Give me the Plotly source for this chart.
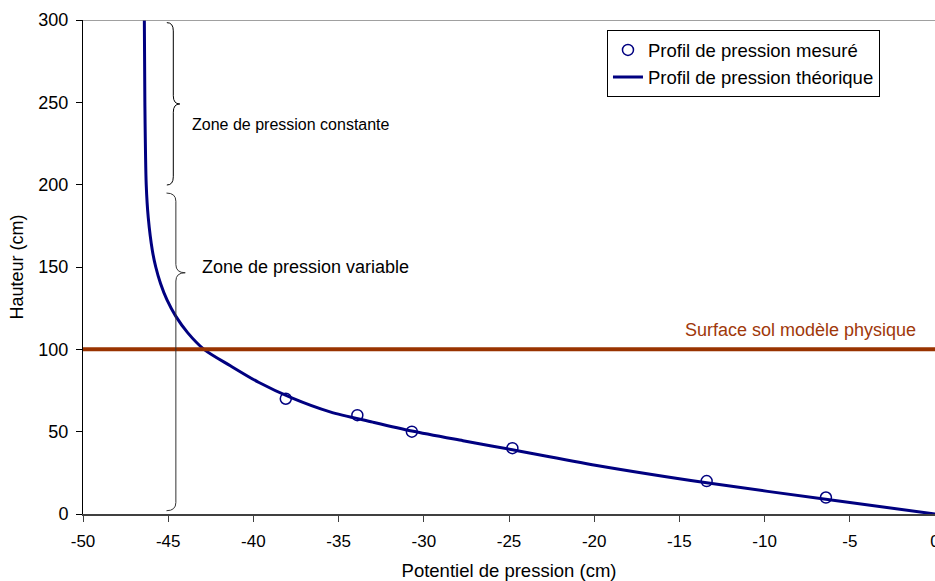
import plotly.graph_objects as go

# ---- data ----
measured_x = [-38.1, -33.9, -30.7, -24.8, -13.4, -6.4]
measured_y = [70, 60, 50, 40, 20, 10]

theory_x = [-46.40, -46.37, -46.29, -46.17, -45.93, -45.73, -45.45, -45.07,
            -44.55, -43.85, -42.9, -41.35, -39.7, -37.75, -35.5, -33.0, -30.7, -27.7,
            -24.8, -19.85, -13.3, -6.3, 0.0]
theory_y = [300, 250, 200, 180, 160, 150, 140, 130,
            120, 110, 100, 90, 80, 70.5, 62.0, 55.8, 50.4, 44.5,
            39.0, 29.5, 18.8, 8.8, 0.0]

surface_level = 100
x_ticks = [-50, -45, -40, -35, -30, -25, -20, -15, -10, -5, 0]
y_ticks = [0, 50, 100, 150, 200, 250, 300]

# braces: (top, middle, bottom)
brace_const = (298.4, 249.0, 199.8)
brace_var = (194.9, 146.5, 2.0)

FONT = "Liberation Sans, Arial, sans-serif"
NAVY = "#000080"
BROWN = "#993300"

fig = go.Figure()

fig.add_trace(go.Scatter(
    x=theory_x, y=theory_y, mode="lines", name="Profil de pression théorique",
    line=dict(color=NAVY, width=3, shape="spline", smoothing=0.8), legendrank=2))

fig.add_trace(go.Scatter(
    x=[x_ticks[0], x_ticks[-1]], y=[surface_level, surface_level], mode="lines",
    line=dict(color=BROWN, width=4), showlegend=False, hoverinfo="skip"))

fig.add_trace(go.Scatter(
    x=measured_x, y=measured_y, mode="markers", name="Profil de pression mesuré",
    marker=dict(symbol="circle-open", size=11, color=NAVY, line=dict(width=1.5, color=NAVY)),
    legendrank=1))


def brace_path(xc, top, mid, bot, w=0.38, r=5.0):
    return (f"M {xc-w},{top} Q {xc},{top} {xc},{top-r} L {xc},{mid+r} "
            f"Q {xc},{mid} {xc+w},{mid} Q {xc},{mid} {xc},{mid-r} "
            f"L {xc},{bot+r} Q {xc},{bot} {xc-w},{bot}")


fig.add_shape(type="path", xref="x", yref="y", path=brace_path(-44.70, *brace_const),
              line=dict(color="#000000", width=1))
fig.add_shape(type="path", xref="x", yref="y", path=brace_path(-44.55, *brace_var, w=0.55),
              line=dict(color="#333333", width=1))

# top border of plot area
fig.add_shape(type="line", xref="paper", yref="y", x0=0, x1=1, y0=300, y1=300,
              line=dict(color="#808080", width=1.5))

fig.add_annotation(x=-43.72, y=236.8, xref="x", yref="y", text="Zone de pression constante",
                   showarrow=False, xanchor="left", yanchor="middle",
                   font=dict(family=FONT, size=16, color="#000000"))
fig.add_annotation(x=-43.13, y=149.8, xref="x", yref="y", text="Zone de pression variable",
                   showarrow=False, xanchor="left", yanchor="middle",
                   font=dict(family=FONT, size=18, color="#000000"))
fig.add_annotation(x=-0.99, y=111.7, xref="x", yref="y", text="Surface sol modèle physique",
                   showarrow=False, xanchor="right", yanchor="middle",
                   font=dict(family=FONT, size=18, color="#A0380A"))

fig.update_layout(
    width=935, height=581,
    margin=dict(l=83, r=0, t=20, b=67),
    paper_bgcolor="white", plot_bgcolor="white",
    font=dict(family=FONT, size=16, color="#000000"),
    showlegend=True,
    legend=dict(x=0.615, y=0.979, xanchor="left", yanchor="top",
                bgcolor="white", bordercolor="#000000", borderwidth=1,
                font=dict(family=FONT, size=18.5, color="#000000"),
                tracegroupgap=0),
    xaxis=dict(range=[-50, 0], tickvals=x_ticks, ticktext=[str(v) for v in x_ticks],
               showgrid=False, zeroline=False, showline=True, linecolor="#404040", linewidth=2,
               ticks="outside", ticklen=6, tickcolor="#404040", tickwidth=1,
               ticklabelstandoff=5, ticklabeloverflow="allow",
               title=dict(text="Potentiel de pression (cm)", standoff=16,
                          font=dict(family=FONT, size=18.5)),
               tickfont=dict(family=FONT, size=17), automargin=False),
    yaxis=dict(range=[0, 300], tickvals=y_ticks,
               showgrid=False, zeroline=False, showline=True, linecolor="#000000", linewidth=1,
               ticks="outside", ticklen=6, tickcolor="#000000", tickwidth=1,
               ticklabelstandoff=4,
               title=dict(text="Hauteur (cm)", standoff=10, font=dict(family=FONT, size=18)),
               tickfont=dict(family=FONT, size=18), automargin=False),
)

fig.write_html("out.html")
